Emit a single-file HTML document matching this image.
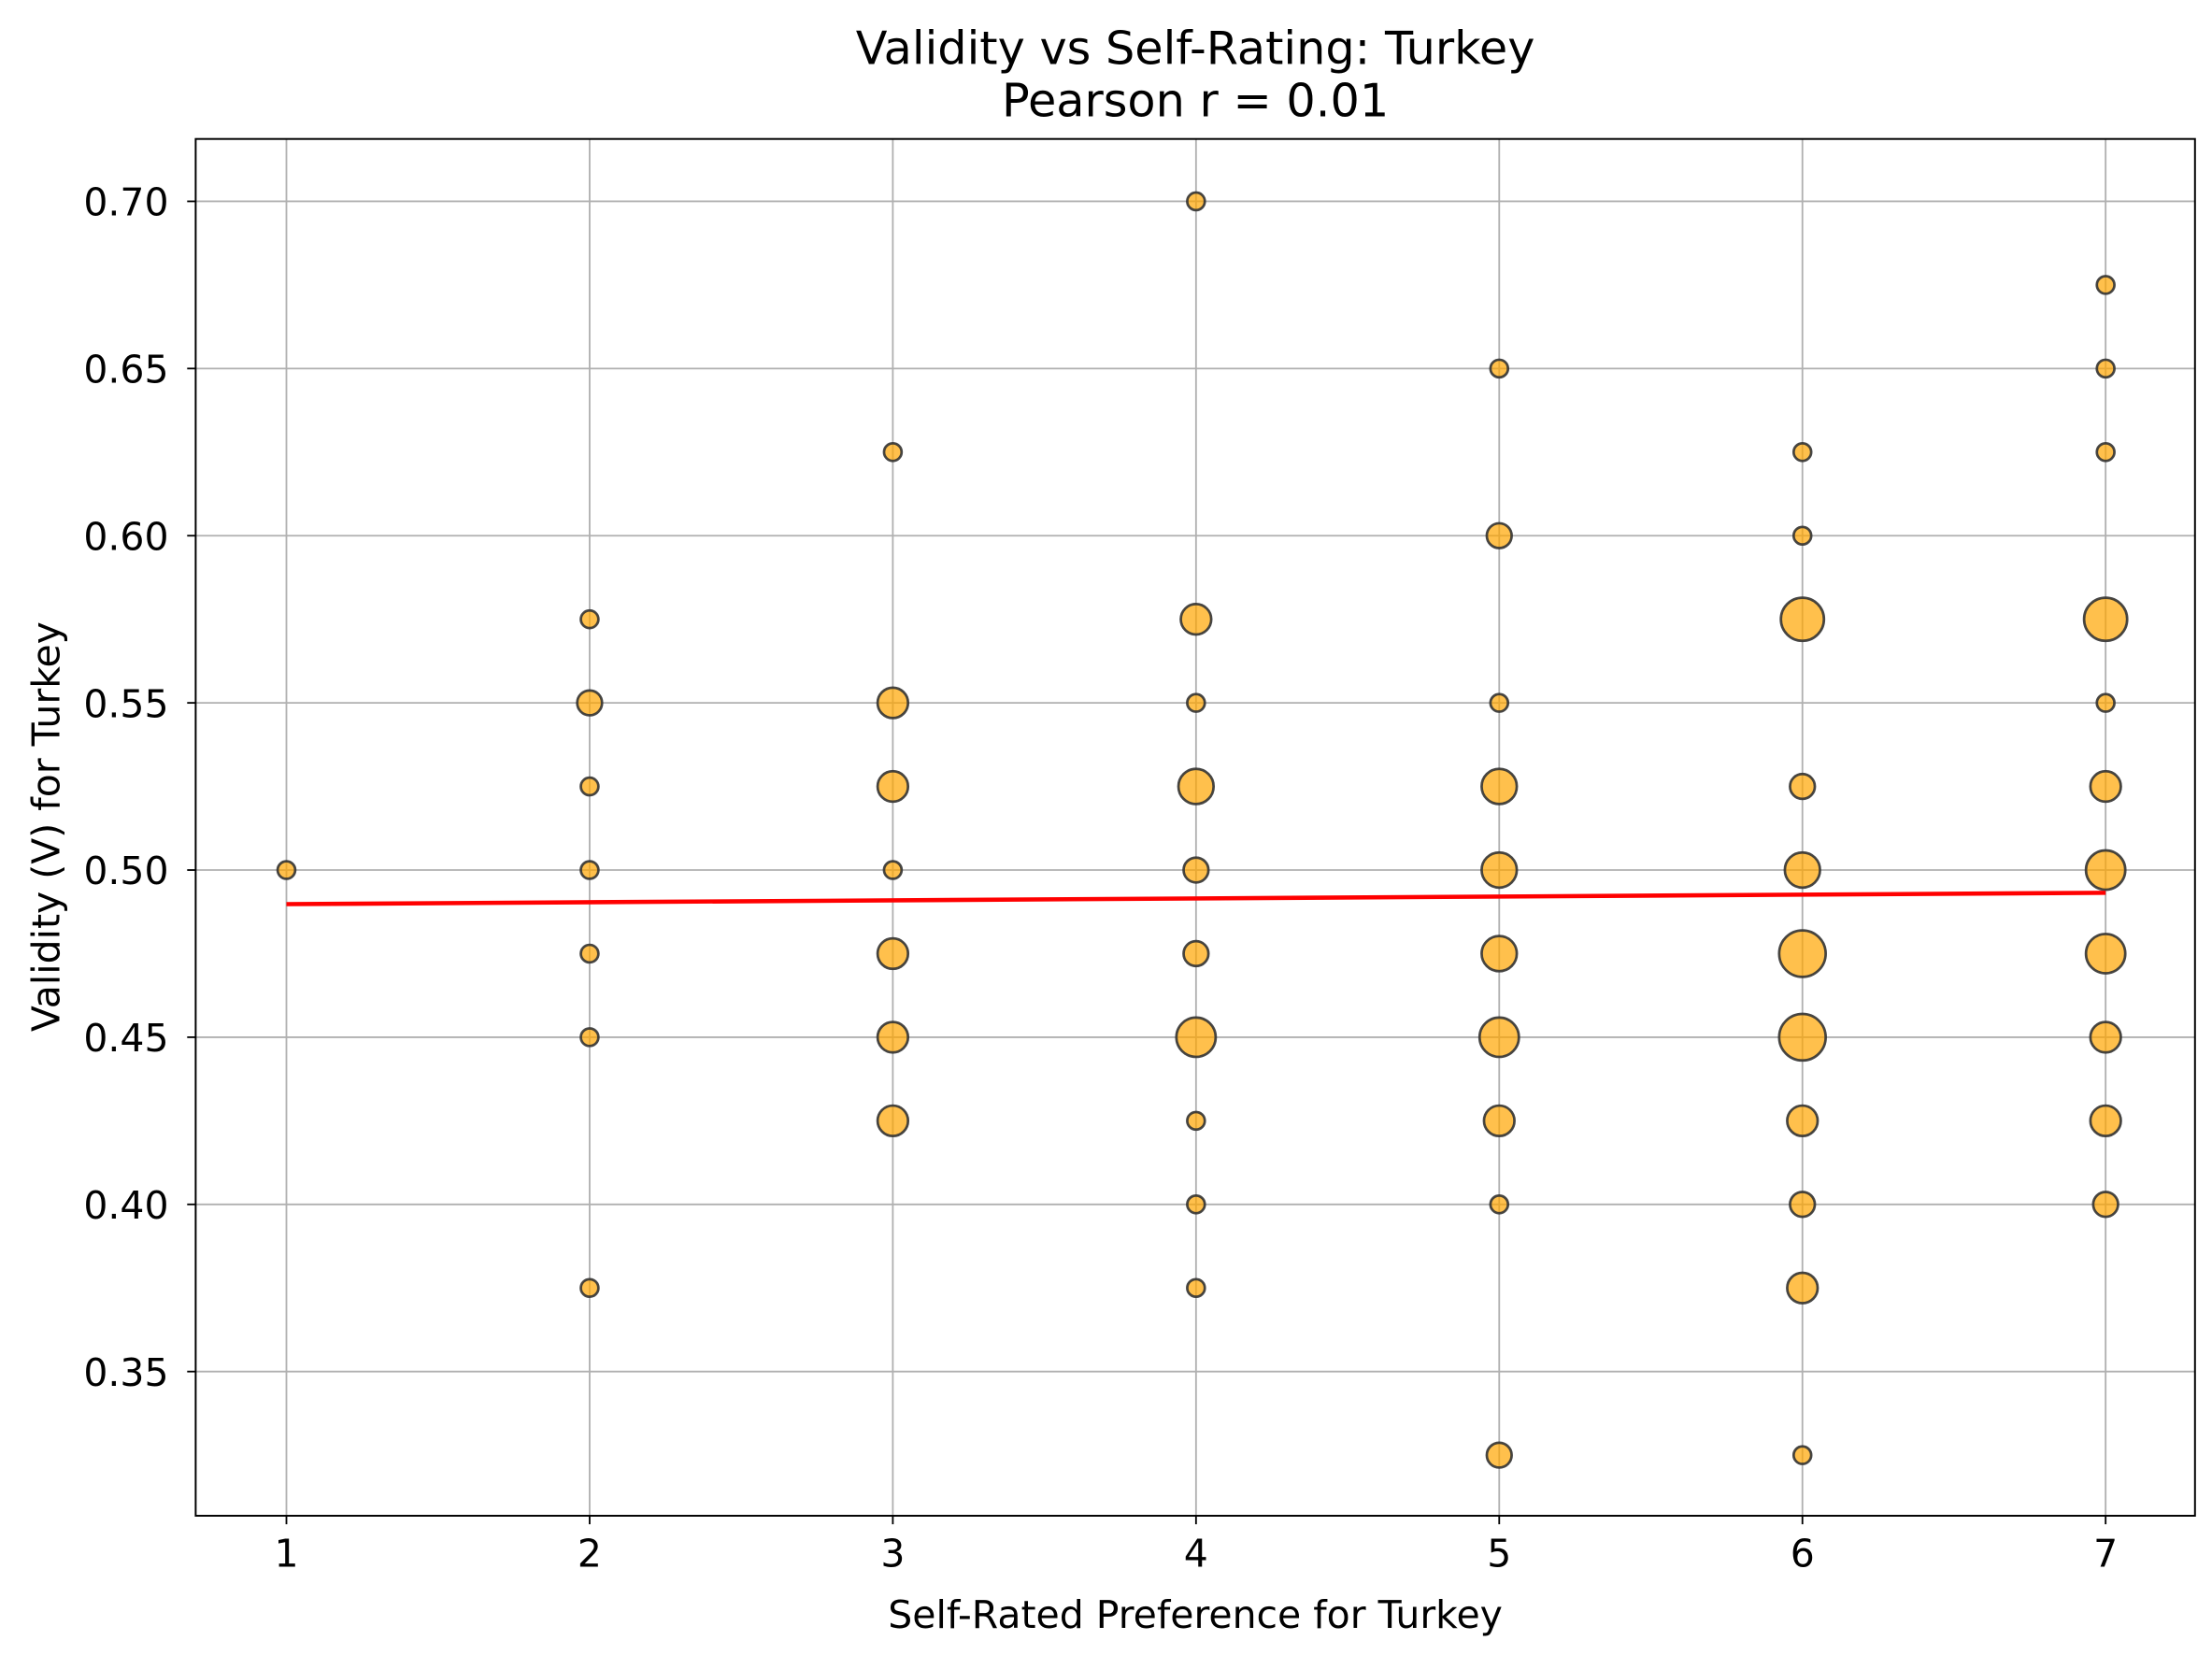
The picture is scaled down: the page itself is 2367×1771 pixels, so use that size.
<!DOCTYPE html>
<html><head><meta charset="utf-8"><style>body{margin:0;background:#fff}svg{display:block}text{font-family:"DejaVu Sans","Liberation Sans",sans-serif;fill:#000}</style></head>
<body>
<svg id="chart" width="2367" height="1771" viewBox="0 0 1560 1167.2" xmlns="http://www.w3.org/2000/svg">
<rect width="1560" height="1168" fill="#fff"/>
<g id="grid"></g><g id="marks"></g><g id="axes"></g>
</svg>
<script>
const xs = [1, 2,2,2,2,2,2,2, 3,3,3,3,3,3,3, 4,4,4,4,4,4,4,4,4,4, 5,5,5,5,5,5,5,5,5,5, 6,6,6,6,6,6,6,6,6,6,6, 7,7,7,7,7,7,7,7,7,7,7];
const ys = [0.5, 0.575,0.55,0.525,0.5,0.475,0.45,0.375, 0.625,0.55,0.525,0.5,0.475,0.45,0.425,
 0.7,0.575,0.55,0.525,0.5,0.475,0.45,0.425,0.4,0.375,
 0.65,0.6,0.55,0.525,0.5,0.475,0.45,0.425,0.4,0.325,
 0.625,0.6,0.575,0.525,0.5,0.475,0.45,0.425,0.4,0.375,0.325,
 0.675,0.65,0.625,0.575,0.55,0.525,0.5,0.475,0.45,0.425,0.4];
const counts = [1, 1,2,1,1,1,1,1, 1,3,3,1,3,3,3,
 1,3,1,4,2,2,5,1,1,1,
 1,2,1,4,4,4,5,3,1,2,
 1,1,6,2,4,7,7,3,2,3,1,
 1,1,1,6,1,3,5,5,3,3,2];
const fitX = [1, 7];
const fitY = [0.4898, 0.4932];
const xTicks = [1,2,3,4,5,6,7];
const yTicks = [0.35,0.40,0.45,0.50,0.55,0.60,0.65,0.70];

const L=138,R=1548,T=98,B=1069;
const xS=v=>202+(v-1)*213.83;
const yS=v=>142+(0.70-v)*2358;
const NS='http://www.w3.org/2000/svg';
function mk(tag,attrs,parent,txt){const e=document.createElementNS(NS,tag);for(const k in attrs)e.setAttribute(k,attrs[k]);if(txt!==undefined)e.textContent=txt;parent.appendChild(e);return e;}
const grid=document.getElementById('grid'),marks=document.getElementById('marks'),axes=document.getElementById('axes');
xTicks.forEach(t=>{
 const g=mk('line',{x1:xS(t),x2:xS(t),y1:T,y2:B,stroke:'#b0b0b0','stroke-width':1.2},grid);
 
 
 mk('line',{x1:xS(t),x2:xS(t),y1:B,y2:B+6,stroke:'#000','stroke-width':1.2},axes);
 const tx=mk('text',{x:xS(t),y:B+36,'text-anchor':'middle','font-size':27},axes,String(t));
 
 
});
yTicks.forEach(t=>{
 const g=mk('line',{x1:L,x2:R,y1:yS(t),y2:yS(t),stroke:'#b0b0b0','stroke-width':1.2},grid);
 
 
 mk('line',{x1:L-6,x2:L,y1:yS(t),y2:yS(t),stroke:'#000','stroke-width':1.2},axes);
 const tx=mk('text',{x:L-19,y:yS(t)+10,'text-anchor':'end','font-size':27},axes,t.toFixed(2));
 
 
});
xs.forEach((x,i)=>{
 const c=mk('circle',{cx:xS(x),cy:yS(ys[i]),r:6.2*Math.sqrt(counts[i]),fill:'rgba(255,165,0,0.7)',stroke:'#333','stroke-opacity':0.9,'stroke-width':1.8},marks);
 
 
});
const ln=mk('line',{x1:xS(fitX[0]),y1:yS(fitY[0]),x2:xS(fitX[1]),y2:yS(fitY[1]),stroke:'#ff0000','stroke-width':3},marks);


const fr=mk('rect',{x:L,y:T,width:R-L,height:B-T,fill:'none',stroke:'#000','stroke-width':1.3},axes);


const t1=mk('text',{x:843,y:45,'text-anchor':'middle','font-size':32.5},axes,'Validity vs Self-Rating: Turkey');


const t2=mk('text',{x:843,y:82,'text-anchor':'middle','font-size':32.5},axes,'Pearson r = 0.01');


const xl=mk('text',{x:843,y:1148,'text-anchor':'middle','font-size':27},axes,'Self-Rated Preference for Turkey');


const yl=mk('text',{x:0,y:0,'text-anchor':'middle','font-size':27,transform:'translate(42,583) rotate(-90)'},axes,'Validity (V) for Turkey');


</script>
</body></html>
